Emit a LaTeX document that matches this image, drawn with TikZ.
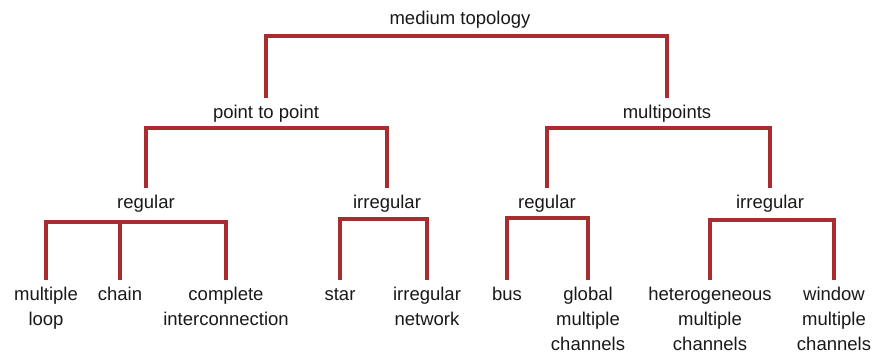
\documentclass[tikz,border=0pt]{standalone}
\usepackage{fontspec}
\setmainfont{Liberation Sans}
\definecolor{linkred}{RGB}{168,44,48}
\definecolor{txt}{RGB}{25,25,25}
\newcommand{\lblfont}{\fontsize{18.5}{25}\selectfont}
\newcommand{\lines}[1]{\begin{tabular}[t]{@{}c@{}}#1\end{tabular}}
\begin{document}
\begin{tikzpicture}[x=1pt,y=-1pt,
  lbl/.style={font=\lblfont, text=txt, inner sep=0pt, outer sep=3pt, anchor=base},
  link/.style={draw=linkred, line width=3.2pt, line join=miter}]
\fill[white] (0,0) rectangle (874,353);
\useasboundingbox (0,0) rectangle (874,353);
% nodes (positions are the baselines of the first lines)
\node[lbl] (root) at (460,25) {\lines{medium topology}};
\node[lbl] (pp) at (266,118.5) {\lines{point to point}};
\node[lbl] (mp) at (667,118.5) {\lines{multipoints}};
\node[lbl] (reg1) at (146,208) {\lines{regular}};
\node[lbl] (irr1) at (387,208) {\lines{irregular}};
\node[lbl] (reg2) at (547,208) {\lines{regular}};
\node[lbl] (irr2) at (770,208) {\lines{irregular}};
\node[lbl] (ml) at (46,300) {\lines{multiple\\loop}};
\node[lbl] (ch) at (120,300) {\lines{chain}};
\node[lbl] (ci) at (226,300) {\lines{complete\\interconnection}};
\node[lbl] (st) at (340,300) {\lines{star}};
\node[lbl] (in) at (427,300) {\lines{irregular\\network}};
\node[lbl] (bus) at (507,300) {\lines{bus}};
\node[lbl] (gmc) at (588,300) {\lines{global\\multiple\\channels}};
\node[lbl] (hmc) at (710,300) {\lines{heterogeneous\\multiple\\channels}};
\node[lbl] (wmc) at (834,300) {\lines{window\\multiple\\channels}};
% bar levels
\coordinate (b0) at (0,36);
\coordinate (b1) at (0,128);
\coordinate (b2a) at (0,222);
\coordinate (b2b) at (0,219);
\coordinate (b2c) at (0,218);
\coordinate (b2d) at (0,220);
% connectors
\draw[link] (pp.north) -- (pp.north |- b0) -- (mp.north |- b0) -- (mp.north);
\draw[link] (reg1.north) -- (reg1.north |- b1) -- (irr1.north |- b1) -- (irr1.north);
\draw[link] (reg2.north) -- (reg2.north |- b1) -- (irr2.north |- b1) -- (irr2.north);
\draw[link] (ml.north) -- (ml.north |- b2a) -- (ci.north |- b2a) -- (ci.north);
\draw[link] (ch.north) -- (ch.north |- b2a);
\draw[link] (st.north) -- (st.north |- b2b) -- (in.north |- b2b) -- (in.north);
\draw[link] (bus.north) -- (bus.north |- b2c) -- (gmc.north |- b2c) -- (gmc.north);
\draw[link] (hmc.north) -- (hmc.north |- b2d) -- (wmc.north |- b2d) -- (wmc.north);
\end{tikzpicture}
\end{document}
